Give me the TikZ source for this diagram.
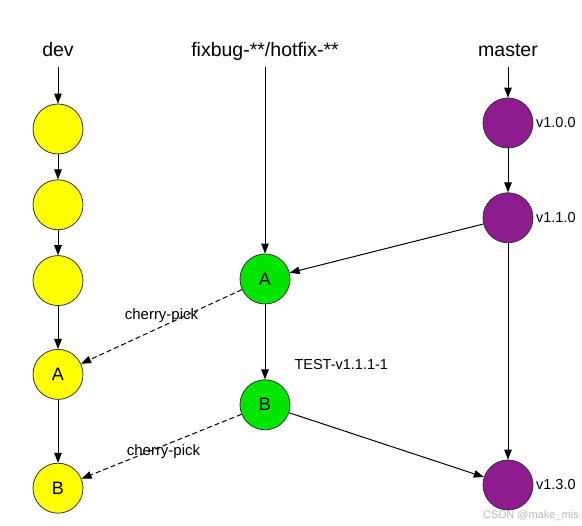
\documentclass[tikz,border=0pt]{standalone}
\usepackage{fontspec}
\setmainfont{Liberation Sans}
\usetikzlibrary{positioning, arrows.meta, calc}
\definecolor{devyellow}{HTML}{FFFF00}
\definecolor{fixgreen}{HTML}{00E600}
\definecolor{mstpurple}{HTML}{8E1C8E}

\begin{document}
\begin{tikzpicture}[
  x=1pt, y=-1pt,
  >={Triangle[length=10pt, width=7.5pt]},
  every node/.style={font=\fontsize{18}{20}\selectfont},
  commit/.style = {circle, draw=black!80, line width=0.8pt, minimum size=50pt, inner sep=0pt},
  devc/.style   = {commit, fill=devyellow},
  fixc/.style   = {commit, fill=fixgreen},
  mstc/.style   = {commit, fill=mstpurple},
  head/.style   = {font=\fontsize{19.5}{22}\selectfont, anchor=base, inner sep=0pt, text depth=5pt},
  ver/.style    = {font=\fontsize{14.5}{16}\selectfont, inner sep=2.5pt},
  note/.style   = {font=\fontsize{14.5}{16}\selectfont, inner sep=0pt},
  pnote/.style  = {font=\fontsize{15}{17}\selectfont, inner sep=1pt},
  arr/.style    = {->, line width=1pt},
  pick/.style   = {->, line width=1pt, dash pattern=on 5pt off 3pt},
]
  \useasboundingbox (0,0) rectangle (582,526);
  % branch heads
  \node[head] (devhead) at (58,57)  {dev};
  \node[head] (fixhead) at (265,57) {fixbug-**/hotfix-**};
  \node[head] (msthead) at (508,57) {master};
  % dev
  \node[devc] (dev1) at (58,129) {};
  \node[devc, below=25pt of dev1] (dev2) {};
  \node[devc, below=25pt of dev2] (dev3) {};
  \node[devc, below=43pt of dev3] (devA) {A};
  \node[devc, below=63pt of devA] (devB) {B};
  % fixbug / hotfix
  \node[fixc] (fixA) at (265,279) {A};
  \node[fixc, below=75pt of fixA] (fixB) {B};
  % master
  \node[mstc, label={[ver]east:v1.0.0}] (mst1) at (508,123) {};
  \node[mstc, label={[ver]east:v1.1.0}, below=44pt of mst1] (mst2) {};
  \node[mstc, label={[ver]east:v1.3.0}] (mst3) at (508,485) {};
  \foreach \a/\b in {devhead/dev1,fixhead/fixA,msthead/mst1}\draw[arr, shorten <=5pt](\a)--(\b);
  \foreach \a/\b in {dev1/dev2,dev2/dev3,dev3/devA,devA/devB,mst1/mst2,mst2/mst3,mst2/fixA,fixB/mst3}\draw[arr](\a)--(\b);
  \draw[arr] (fixA) -- (fixB) node[note, pos=0.8, anchor=west, xshift=29pt]{TEST-v1.1.1-1};
  \draw[pick] (fixA) -- (devA) node[pnote, midway, above=3pt]{cherry-pick};
  \draw[pick] (fixB) -- (devB) node[pnote, midway, xshift=2pt, yshift=-5pt]{cherry-pick};
  \node[font=\fontsize{11}{13}\selectfont, text=gray!55] (mark) at (531,516) {CSDN @make\_mis};
\end{tikzpicture}
\end{document}
